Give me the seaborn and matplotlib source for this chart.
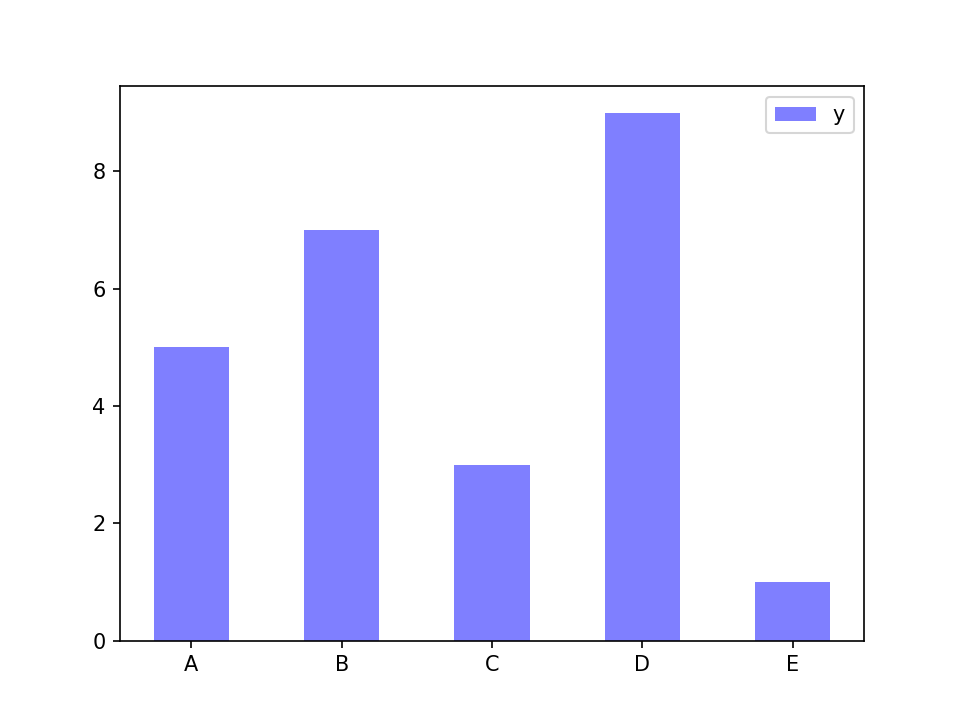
import matplotlib
matplotlib.use("Agg")
import matplotlib.pyplot as plt
import seaborn as sns
import pandas as pd

categories = ["A", "B", "C", "D", "E"]
values = [5, 7, 3, 9, 1]

df = pd.DataFrame({"x": categories, "y": values})

fig, ax = plt.subplots(figsize=(6.4, 4.8), dpi=150)
sns.barplot(data=df, x="x", y="y", ax=ax, color="blue", saturation=1,
            alpha=0.5, width=0.5, linewidth=0, label="y")
ax.set_xlim(-0.475, 4.475)
ax.set_ylim(0, 9.45)
ax.set_xlabel("")
ax.set_ylabel("")
ax.legend(loc="upper right")
fig.savefig("out.png", dpi=150)
